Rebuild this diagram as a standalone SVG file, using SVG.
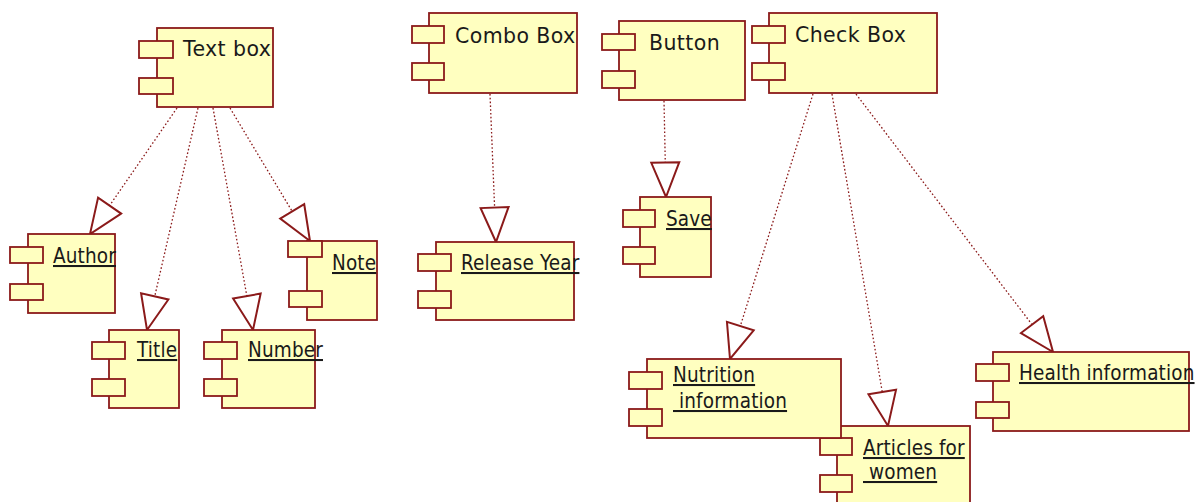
<svg xmlns="http://www.w3.org/2000/svg" width="1198" height="502" viewBox="0 0 1198 502">
<defs>
<style>
.body{fill:#ffffc0;stroke:#8b1a1a;stroke-width:1.8}
.port{fill:#ffffc0;stroke:#8b1a1a;stroke-width:1.8}
.t{font-family:"DejaVu Sans",Verdana,sans-serif;font-size:20.5px;letter-spacing:0.4px;fill:#1a1a1a}
.c{font-family:"DejaVu Sans Condensed","DejaVu Sans",sans-serif;font-size:20.5px;letter-spacing:0.15px;fill:#1a1a1a;text-decoration:underline}
.dep{fill:none;stroke:#8b1a1a;stroke-width:1.3;stroke-dasharray:1.6 2.2;marker-end:url(#tri)}
</style>
<marker id="tri" viewBox="0 0 38 32" refX="36" refY="16" markerWidth="38" markerHeight="32" markerUnits="userSpaceOnUse" orient="auto">
<path d="M1.5,2 L36,16 L1.5,30 Z" fill="#fff" stroke="#8b1a1a" stroke-width="2" stroke-linejoin="miter"/>
</marker>
</defs>
<rect width="1198" height="502" fill="#fff"/>

<g id="connectors">
<line class="dep" x1="177" y1="108" x2="90" y2="234"/>
<line class="dep" x1="198" y1="108" x2="147" y2="330"/>
<line class="dep" x1="213" y1="108" x2="253" y2="330"/>
<line class="dep" x1="230" y1="108" x2="310" y2="241"/>
<line class="dep" x1="490" y1="94" x2="496" y2="242"/>
<line class="dep" x1="664" y1="101" x2="666" y2="197"/>
<line class="dep" x1="813" y1="94" x2="730" y2="359"/>
<line class="dep" x1="832" y1="94" x2="888" y2="426"/>
<line class="dep" x1="856" y1="94" x2="1053" y2="352"/>
</g>

<g id="textbox">
<rect class="body" x="157" y="28" width="116" height="79"/>
<rect class="port" x="139" y="41" width="34" height="17"/>
<rect class="port" x="139" y="78" width="34" height="16"/>
<text class="t" x="183" y="56">Text box</text>
</g>

<g id="author">
<rect class="body" x="28" y="234" width="87" height="79"/>
<rect class="port" x="10" y="247" width="33" height="16"/>
<rect class="port" x="10" y="284" width="33" height="16"/>
<text class="c" x="53" y="263">Author</text>
</g>

<g id="title">
<rect class="body" x="109" y="330" width="70" height="78"/>
<rect class="port" x="92" y="342" width="33" height="17"/>
<rect class="port" x="92" y="379" width="33" height="17"/>
<text class="c" x="137" y="357">Title</text>
</g>

<g id="number">
<rect class="body" x="222" y="330" width="93" height="78"/>
<rect class="port" x="204" y="342" width="33" height="17"/>
<rect class="port" x="204" y="379" width="33" height="17"/>
<text class="c" x="248" y="357">Number</text>
</g>

<g id="note">
<rect class="body" x="307" y="241" width="70" height="79"/>
<rect class="port" x="288" y="241" width="34" height="16"/>
<rect class="port" x="289" y="291" width="33" height="16"/>
<text class="c" x="332" y="270">Note</text>
</g>

<g id="combobox">
<rect class="body" x="429" y="13" width="148" height="80"/>
<rect class="port" x="412" y="26" width="32" height="17"/>
<rect class="port" x="412" y="63" width="32" height="17"/>
<text class="t" x="455" y="43">Combo Box</text>
</g>

<g id="button">
<rect class="body" x="619" y="21" width="126" height="79"/>
<rect class="port" x="602" y="34" width="33" height="16"/>
<rect class="port" x="602" y="71" width="33" height="17"/>
<text class="t" x="649" y="50">Button</text>
</g>

<g id="checkbox">
<rect class="body" x="769" y="13" width="168" height="80"/>
<rect class="port" x="752" y="26" width="33" height="17"/>
<rect class="port" x="752" y="63" width="33" height="17"/>
<text class="t" x="795" y="42">Check Box</text>
</g>

<g id="save">
<rect class="body" x="640" y="197" width="71" height="80"/>
<rect class="port" x="623" y="210" width="32" height="17"/>
<rect class="port" x="623" y="247" width="32" height="17"/>
<text class="c" x="666" y="226">Save</text>
</g>

<g id="releaseyear">
<rect class="body" x="436" y="242" width="138" height="78"/>
<rect class="port" x="418" y="254" width="33" height="17"/>
<rect class="port" x="418" y="291" width="33" height="17"/>
<text class="c" x="461" y="270">Release Year</text>
</g>

<g id="articles">
<rect class="body" x="837" y="426" width="133" height="80"/>
<rect class="port" x="820" y="438" width="32" height="17"/>
<rect class="port" x="820" y="475" width="32" height="17"/>
<text class="c" x="863" y="455">Articles for</text>
<text class="c" x="863" y="479" xml:space="preserve"> women</text>
</g>

<g id="nutrition">
<rect class="body" x="647" y="359" width="194" height="79"/>
<rect class="port" x="629" y="372" width="33" height="17"/>
<rect class="port" x="629" y="409" width="33" height="17"/>
<text class="c" x="673" y="382">Nutrition</text>
<text class="c" x="673" y="408" xml:space="preserve"> information</text>
</g>

<g id="health">
<rect class="body" x="993" y="352" width="196" height="79"/>
<rect class="port" x="976" y="364" width="33" height="17"/>
<rect class="port" x="976" y="402" width="33" height="16"/>
<text class="c" x="1019" y="380">Health information</text>
</g>
</svg>
